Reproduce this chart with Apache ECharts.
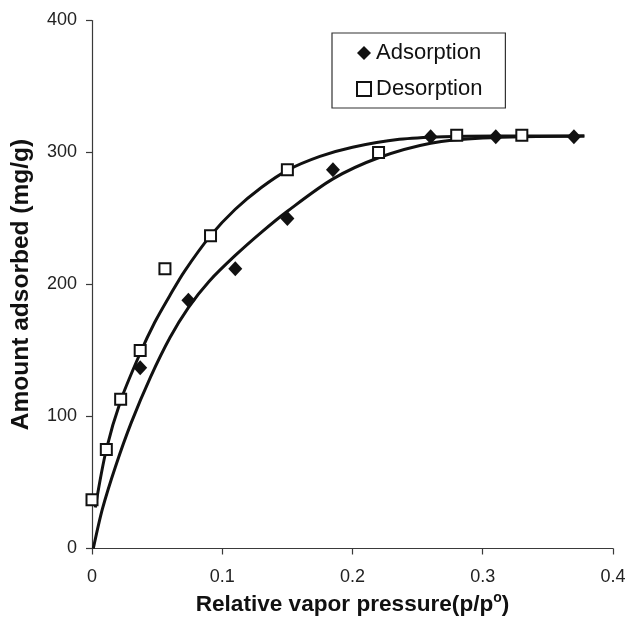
<!DOCTYPE html>
<html>
<head>
<meta charset="utf-8">
<script src="https://cdn.jsdelivr.net/npm/echarts@6/dist/echarts.min.js"></script>
<style>
  html, body { margin: 0; padding: 0; background: #fff; }
  #chart { width: 628px; height: 617px; }
</style>
</head>
<body>
<div id="chart"></div>
<script>
// Measured isotherm points: [relative pressure p/p°, amount adsorbed mg/g]
const adsorptionPoints = [
  [0.037, 137], [0.074, 188], [0.110, 212], [0.150, 250], [0.185, 287],
  [0.260, 312], [0.310, 312], [0.370, 312]
];
const desorptionPoints = [
  [0.000, 37], [0.011, 75], [0.022, 113], [0.037, 150], [0.056, 212],
  [0.091, 237], [0.150, 287], [0.220, 300], [0.280, 313], [0.330, 313]
];

// Fitted isotherm curves
const adsorptionFit = [
  [0.001, 0], [0.008, 30], [0.018, 62], [0.030, 95], [0.045, 130],
  [0.060, 160], [0.074, 182.5], [0.090, 202.5], [0.110, 222], [0.130, 239.5],
  [0.150, 255.5], [0.185, 280], [0.220, 296], [0.260, 307], [0.300, 311],
  [0.378, 312.5]
];
const desorptionFit = [
  [0.0025, 31], [0.011, 75], [0.022, 112], [0.037, 148], [0.048, 171],
  [0.060, 192], [0.071, 210], [0.091, 237], [0.110, 257], [0.130, 273.5],
  [0.150, 286.5], [0.175, 297], [0.200, 304], [0.236, 310], [0.270, 312],
  [0.310, 312.5], [0.378, 312.5]
];

// Axis ticks
const xTicks = [0, 0.1, 0.2, 0.3, 0.4];
const yTicks = [0, 100, 200, 300, 400];

const seriesNames = ['Adsorption', 'Desorption'];
const xTitle = 'Relative vapor pressure(p/p{sup|o})';
const yTitle = 'Amount adsorbed (mg/g)';

const FONT = '"Liberation Sans", Arial, sans-serif';
const INK = '#111';
const AXIS = '#3a3a3a';

const chart = echarts.init(document.getElementById('chart'), null, { renderer: 'canvas' });

const axisCommon = {
  type: 'value',
  nameLocation: 'middle',
  axisLine: { show: true, lineStyle: { color: AXIS, width: 1.2 } },
  axisTick: { show: true, inside: false, length: 6, lineStyle: { color: AXIS, width: 1.2 } },
  splitLine: { show: false },
  axisLabel: { color: '#222', fontFamily: FONT, fontSize: 18 },
  nameTextStyle: { color: INK, fontFamily: FONT, fontWeight: 'bold' }
};

chart.setOption({
  animation: false,
  backgroundColor: '#fff',
  grid: {
    left: 92, right: 15, top: 20.5, bottom: 68.5,
    containLabel: false,
    outerBoundsMode: 'none'
  },
  legend: {
    data: seriesNames,
    orient: 'vertical',
    left: 332,
    top: 33,
    padding: [9, 23, 8, 24],
    itemGap: 14,
    itemWidth: 14,
    itemHeight: 14,
    borderColor: '#333',
    borderWidth: 1.2,
    textStyle: { color: INK, fontFamily: FONT, fontSize: 22 }
  },
  xAxis: Object.assign({}, axisCommon, {
    min: xTicks[0],
    max: xTicks[xTicks.length - 1],
    interval: xTicks[1] - xTicks[0],
    name: xTitle,
    nameGap: 28,
    axisLabel: Object.assign({}, axisCommon.axisLabel, { margin: 20 }),
    nameTextStyle: Object.assign({}, axisCommon.nameTextStyle, {
      fontSize: 22.6,
      rich: {
        sup: { fontFamily: FONT, fontSize: 14, fontWeight: 'bold', color: INK, padding: [0, 0, 13, 0] }
      }
    })
  }),
  yAxis: Object.assign({}, axisCommon, {
    min: yTicks[0],
    max: yTicks[yTicks.length - 1],
    interval: yTicks[1] - yTicks[0],
    name: yTitle,
    nameGap: 58,
    nameRotate: 90,
    axisLabel: Object.assign({}, axisCommon.axisLabel, { margin: 15 }),
    nameTextStyle: Object.assign({}, axisCommon.nameTextStyle, { fontSize: 24.5 })
  }),
  series: [
    {
      name: 'Adsorption fit',
      type: 'line',
      data: adsorptionFit,
      smooth: 0.3,
      showSymbol: false,
      symbol: 'none',
      lineStyle: { color: INK, width: 3 },
      z: 2
    },
    {
      name: 'Desorption fit',
      type: 'line',
      data: desorptionFit,
      smooth: 0.3,
      showSymbol: false,
      symbol: 'none',
      lineStyle: { color: INK, width: 3 },
      z: 2
    },
    {
      name: seriesNames[0],
      type: 'scatter',
      data: adsorptionPoints,
      symbol: 'diamond',
      symbolSize: [14, 15],
      itemStyle: { color: INK, opacity: 1 },
      z: 4
    },
    {
      name: seriesNames[1],
      type: 'scatter',
      data: desorptionPoints,
      symbol: 'rect',
      symbolSize: 11,
      itemStyle: { color: '#fff', borderColor: INK, borderWidth: 2, opacity: 1 },
      z: 5
    }
  ]
});
</script>
</body>
</html>
